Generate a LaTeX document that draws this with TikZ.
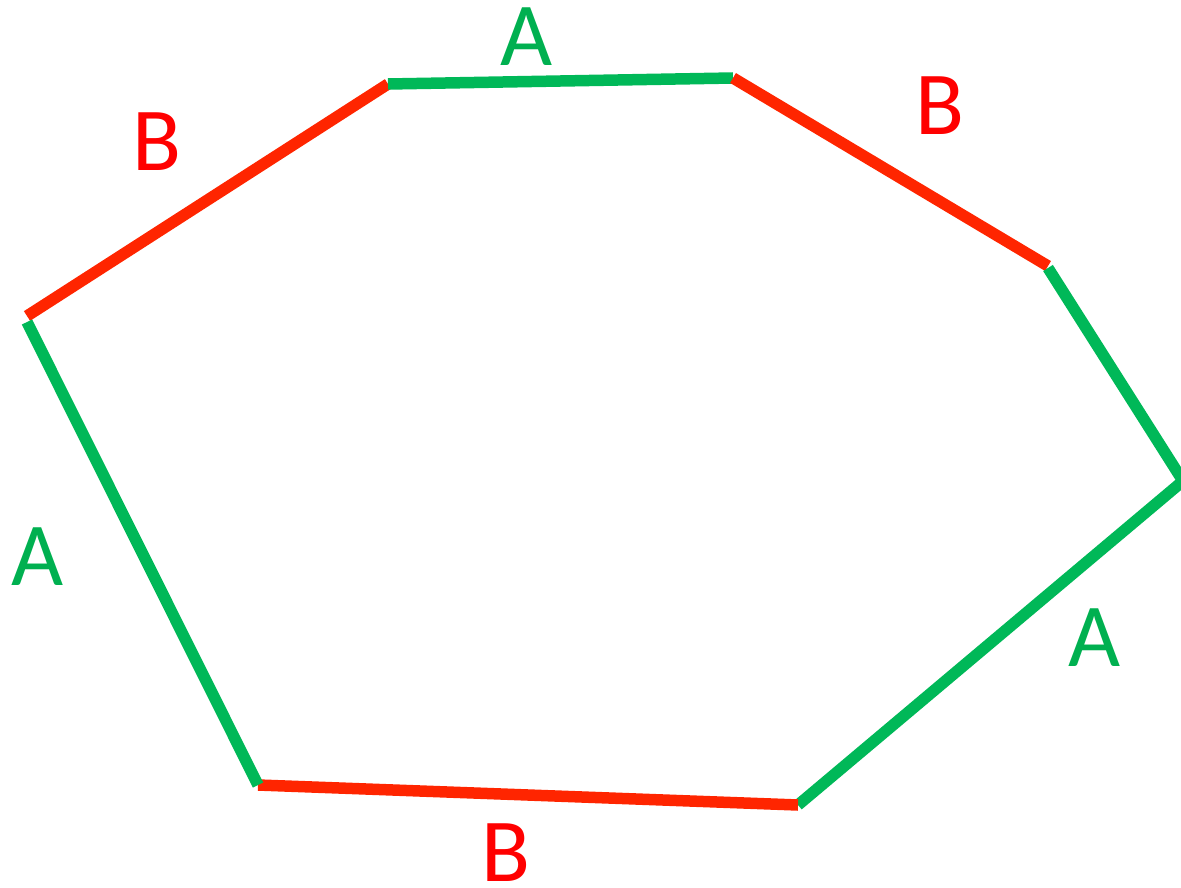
\documentclass[tikz,border=0pt]{standalone}
\usepackage{fontspec}
\setmainfont{Carlito}
\definecolor{lgreen}{HTML}{00B858}
\definecolor{lred}{HTML}{FF2500}
\definecolor{tred}{HTML}{FF0000}
\definecolor{tgreen}{HTML}{00B050}
\begin{document}
\begin{tikzpicture}[x=1pt,y=-1pt,
  gseg/.style={draw=lgreen,line width=11.5pt,line cap=butt},
  rseg/.style={draw=lred,line width=11.5pt,line cap=butt},
  glab/.style={text=tgreen,font=\fontsize{90}{90}\selectfont,inner sep=0pt},
  rlab/.style={text=tred,font=\fontsize{90}{90}\selectfont,inner sep=0pt}]
\useasboundingbox (0,0) rectangle (1181,888);
\coordinate (p1r) at (27,316);
\coordinate (p1g) at (27,322);
\coordinate (p2) at (388,84);
\coordinate (p3) at (733,78);
\coordinate (p4r) at (1048,266);
\coordinate (p4g) at (1048,268);
\coordinate (p5) at (1183,481);
\coordinate (p6) at (798,805);
\coordinate (p7) at (258,785);
\draw[rseg] (p1r) -- (p2);
\draw[gseg] (p2) -- (p3);
\draw[rseg] (p3) -- (p4r);
\draw[gseg] (p4g) -- (p5);
\draw[gseg] (p5) -- (p6);
\draw[rseg] (p6) -- (p7);
\draw[gseg] (p7) -- (p1g);
\node[glab] (la1) at (527,37) {A};
\node[rlab] (lb1) at (157,142) {B};
\node[rlab] (lb2) at (940,106) {B};
\node[glab] (la2) at (38,557) {A};
\node[glab] (la3) at (1095,638) {A};
\node[rlab] (lb3) at (506,853) {B};
\end{tikzpicture}
\end{document}
